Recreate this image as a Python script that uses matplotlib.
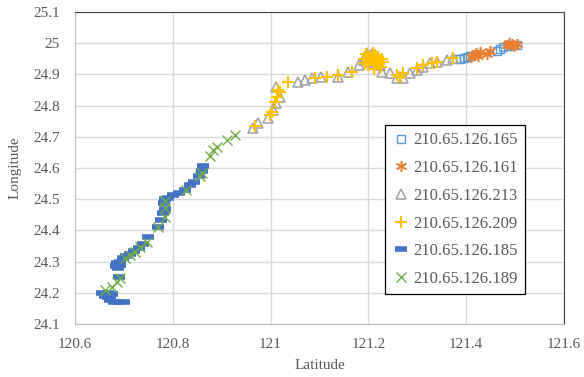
import numpy as np
import matplotlib
matplotlib.use('Agg')
import matplotlib.pyplot as plt

plt.rcParams['font.family'] = ['Liberation Serif', 'DejaVu Serif']

# series 210.65.126.165 (squares)
lon_165 = [121.380, 121.388, 121.395, 121.402, 121.408, 121.462, 121.470, 121.476, 121.485, 121.490, 121.497, 121.503]
lat_165 = [24.948, 24.950, 24.952, 24.955, 24.958, 24.976, 24.982, 24.988, 24.992, 24.994, 24.995, 24.994]

# series 210.65.126.161 (asterisks)
lon_161 = [121.410, 121.415, 121.420, 121.425, 121.428, 121.442, 121.448, 121.483, 121.488, 121.493, 121.498, 121.503]
lat_161 = [24.955, 24.962, 24.968, 24.958, 24.972, 24.965, 24.975, 24.993, 25.000, 24.998, 24.992, 24.996]

# series 210.65.126.213 (triangles)
lon_213 = [120.965, 120.975, 120.995, 121.005, 121.012, 121.019, 121.012, 121.057, 121.070, 121.084,
           121.104, 121.138, 121.159, 121.180, 121.193, 121.198, 121.205, 121.212, 121.218, 121.224,
           121.227, 121.244, 121.258, 121.271, 121.285, 121.299, 121.312, 121.326, 121.340, 121.360, 121.374,
           121.190, 121.196, 121.203, 121.208, 121.215, 121.222]
lat_213 = [24.727, 24.743, 24.760, 24.786, 24.807, 24.829, 24.861, 24.877, 24.882, 24.887,
           24.893, 24.893, 24.909, 24.930, 24.957, 24.968, 24.962, 24.950, 24.940, 24.930,
           24.909, 24.904, 24.888, 24.888, 24.904, 24.914, 24.925, 24.936, 24.941, 24.946, 24.952,
           24.945, 24.955, 24.940, 24.965, 24.958, 24.945]

# series 210.65.126.209 (plus)
lon_209 = [120.968, 120.999, 121.003, 121.010, 121.013, 121.019, 121.016, 121.036, 121.091, 121.115,
           121.138, 121.166, 121.190, 121.195, 121.200, 121.205, 121.210, 121.215, 121.220, 121.225,
           121.230, 121.200, 121.212, 121.258, 121.271, 121.312, 121.330, 121.340, 121.374,
           121.193, 121.198, 121.207, 121.213, 121.218, 121.222, 121.228, 121.265, 121.300]
lat_209 = [24.735, 24.770, 24.778, 24.813, 24.829, 24.845, 24.850, 24.877, 24.887, 24.893,
           24.898, 24.909, 24.950, 24.965, 24.958, 24.945, 24.970, 24.935, 24.955, 24.925,
           24.940, 24.930, 24.918, 24.898, 24.905, 24.930, 24.936, 24.940, 24.952,
           24.938, 24.948, 24.955, 24.962, 24.942, 24.932, 24.948, 24.892, 24.922]

# series 210.65.126.185 (dash)
lon_185 = [120.700, 120.690, 120.680, 120.672, 120.668, 120.662, 120.655, 120.668, 120.676,
           120.690, 120.688, 120.690, 120.693, 120.698, 120.705, 120.712, 120.720, 120.730,
           120.740, 120.750, 120.770, 120.775, 120.780, 120.785, 120.783, 120.784, 120.790,
           120.800, 120.812, 120.825, 120.835, 120.843, 120.853, 120.860, 120.862,
           120.684, 120.686, 120.692, 120.664, 120.672]
lat_185 = [24.170, 24.170, 24.172, 24.178, 24.185, 24.190, 24.200, 24.198, 24.195,
           24.250, 24.280, 24.290, 24.300, 24.310, 24.318, 24.325, 24.335, 24.345,
           24.358, 24.380, 24.410, 24.432, 24.455, 24.468, 24.488, 24.500, 24.505,
           24.512, 24.520, 24.528, 24.545, 24.555, 24.575, 24.590, 24.605,
           24.285, 24.295, 24.288, 24.192, 24.182]

# series 210.65.126.189 (x)
lon_189 = [120.661, 120.675, 120.685, 120.692, 120.702, 120.712, 120.723, 120.733, 120.747, 120.770,
           120.784, 120.784, 120.784, 120.828, 120.856, 120.859, 120.876, 120.883, 120.890, 120.910, 120.927]
lat_189 = [24.209, 24.220, 24.236, 24.246, 24.310, 24.320, 24.332, 24.346, 24.364, 24.410,
           24.444, 24.471, 24.494, 24.529, 24.575, 24.585, 24.640, 24.658, 24.668, 24.690, 24.706]

labels = ['210.65.126.165', '210.65.126.161', '210.65.126.213',
          '210.65.126.209', '210.65.126.185', '210.65.126.189']

fig = plt.figure(figsize=(5.84, 3.77), dpi=100)
ax = fig.add_axes([75/584, 1-324/377, 489/584, 312/377])

ax.plot(lon_165, lat_165, ls='none', marker='s', ms=5.5, mfc='none', mec='#5B9BD5', mew=1.0, label=labels[0])
ax.plot(lon_161, lat_161, ls='none', marker=(6, 2, 0), ms=8, mec='#ED7D31', mew=1.1, label=labels[1])
ax.plot(lon_213, lat_213, ls='none', marker='^', ms=6.5, mfc='none', mec='#A5A5A5', mew=1.2, label=labels[2])
ax.plot(lon_209, lat_209, ls='none', marker='+', ms=8, mec='#FFC000', mew=1.5, label=labels[3])
ax.plot(lon_185, lat_185, ls='none', marker='_', ms=8, mec='#4472C4', mew=4, label=labels[4])
ax.plot(lon_189, lat_189, ls='none', marker='x', ms=6.5, mec='#70AD47', mew=1.0, label=labels[5])

ax.set_xlim(120.6, 121.6)
ax.set_ylim(24.1, 25.1)
ax.set_xticks(np.arange(120.6, 121.61, 0.2))
ax.set_xticklabels(['120.6', '120.8', '121', '121.2', '121.4', '121.6'])
ax.set_yticks(np.arange(24.1, 25.11, 0.1))
ax.set_yticklabels(['24.1', '24.2', '24.3', '24.4', '24.5', '24.6', '24.7', '24.8', '24.9', '25', '25.1'])
ax.grid(True, color='#D9D9D9', lw=1.0)
ax.set_axisbelow(True)
ax.tick_params(length=0, labelsize=11, colors='#595959')
ax.tick_params(axis='x', pad=10)
ax.tick_params(axis='y', pad=11)

ax.spines['left'].set_color('#BFBFBF')
ax.spines['bottom'].set_color('#BFBFBF')
ax.spines['top'].set_color('#404040')
ax.spines['right'].set_color('#404040')

ax.set_xlabel('Latitude', fontsize=11, color='#595959', labelpad=6)
ax.set_ylabel('Longitude', fontsize=11, color='#595959', labelpad=8)

leg = ax.legend(loc='upper left', bbox_to_anchor=(385/584, 1-125/377), bbox_transform=fig.transFigure,
                fontsize=12, frameon=True, fancybox=False, edgecolor='black', framealpha=1,
                handlelength=1.0, handletextpad=0.25, labelspacing=0.7, borderpad=0.45, borderaxespad=0)
leg.get_frame().set_linewidth(0.9)
for t in leg.get_texts():
    t.set_color('#595959')

plt.savefig('out.png', dpi=100)
